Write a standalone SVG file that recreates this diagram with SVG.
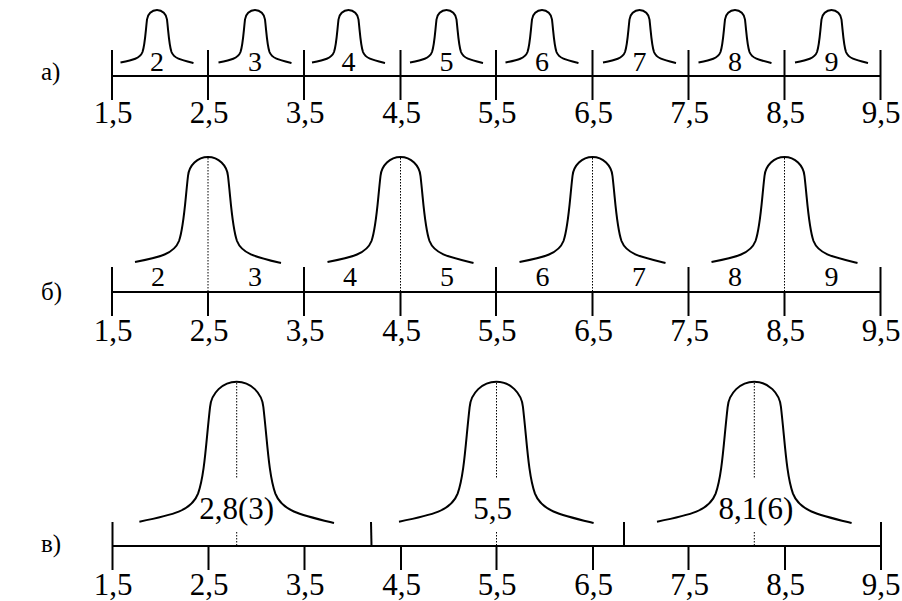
<svg xmlns="http://www.w3.org/2000/svg" xmlns:xlink="http://www.w3.org/1999/xlink" width="902" height="601" viewBox="0 0 902 601">
<style>
.ln{stroke:#000;stroke-width:2;fill:none}
.bump{stroke:#000;stroke-width:2;fill:none;vector-effect:non-scaling-stroke}
.dot{stroke:#000;stroke-width:1;stroke-dasharray:1.5 1.5;fill:none}
text{font-family:'Liberation Serif','Times New Roman',serif;fill:#000}
.t{text-anchor:middle}
.ax{font-size:31px}
.n{font-size:28px}
.v{font-size:31px}
.lb{font-size:25px}
</style>
<defs>
<path id="bp" class="bump" d="M -73,105 C -48,100 -34,97 -29,84 C -24,70 -23,45 -20,19 C -19,8.5 -10.5,0 0,0 C 10.5,0 19,8.5 20,19 C 23,45 24,70 29,84 C 34,97 48,100 73,106"/>
</defs>
<rect width="902" height="601" fill="#fff"/>

<g id="row-a">
<text class="lb" x="41" y="80">а)</text>
<line class="ln" x1="112" y1="76" x2="881" y2="76"/>
<g class="ln">
<line x1="112" y1="50" x2="112" y2="100"/>
<line x1="208" y1="50" x2="208" y2="100"/>
<line x1="304" y1="50" x2="304" y2="100"/>
<line x1="400.5" y1="50" x2="400.5" y2="100"/>
<line x1="496" y1="50" x2="496" y2="100"/>
<line x1="592.5" y1="50" x2="592.5" y2="100"/>
<line x1="688.5" y1="50" x2="688.5" y2="100"/>
<line x1="784.5" y1="50" x2="784.5" y2="100"/>
<line x1="880.5" y1="50" x2="880.5" y2="100"/>
</g>
<use xlink:href="#bp" transform="translate(157,10) scale(0.5)"/>
<use xlink:href="#bp" transform="translate(255,10) scale(0.5)"/>
<use xlink:href="#bp" transform="translate(348.5,10) scale(0.5)"/>
<use xlink:href="#bp" transform="translate(446.5,10) scale(0.5)"/>
<use xlink:href="#bp" transform="translate(542,10) scale(0.5)"/>
<use xlink:href="#bp" transform="translate(639.5,10) scale(0.5)"/>
<use xlink:href="#bp" transform="translate(735,10) scale(0.5)"/>
<use xlink:href="#bp" transform="translate(831.5,10) scale(0.5)"/>
<g class="t n">
<text x="157" y="71">2</text>
<text x="255" y="71">3</text>
<text x="348.5" y="71">4</text>
<text x="446.5" y="71">5</text>
<text x="542" y="71">6</text>
<text x="639.5" y="71">7</text>
<text x="735" y="71">8</text>
<text x="831.5" y="71">9</text>
</g>
<g class="t ax">
<text x="113" y="123">1,5</text>
<text x="209" y="123">2,5</text>
<text x="305" y="123">3,5</text>
<text x="401.5" y="123">4,5</text>
<text x="497" y="123">5,5</text>
<text x="593.5" y="123">6,5</text>
<text x="689.5" y="123">7,5</text>
<text x="785.5" y="123">8,5</text>
<text x="881" y="123">9,5</text>
</g>
</g>

<g id="row-b">
<text class="lb" x="41" y="300">б)</text>
<line class="ln" x1="112" y1="292" x2="881" y2="292"/>
<g class="ln">
<line x1="112" y1="267" x2="112" y2="316"/>
<line x1="208" y1="292" x2="208" y2="316"/>
<line x1="304" y1="267" x2="304" y2="316"/>
<line x1="400.5" y1="292" x2="400.5" y2="316"/>
<line x1="496" y1="267" x2="496" y2="316"/>
<line x1="592.5" y1="292" x2="592.5" y2="316"/>
<line x1="688.5" y1="267" x2="688.5" y2="316"/>
<line x1="784.5" y1="292" x2="784.5" y2="316"/>
<line x1="880.5" y1="267" x2="880.5" y2="316"/>
</g>
<g class="dot">
<line x1="208" y1="158" x2="208" y2="292"/>
<line x1="400.5" y1="158" x2="400.5" y2="292"/>
<line x1="592.5" y1="158" x2="592.5" y2="292"/>
<line x1="784.5" y1="158" x2="784.5" y2="292"/>
</g>
<use xlink:href="#bp" transform="translate(208,157)"/>
<use xlink:href="#bp" transform="translate(400.5,157)"/>
<use xlink:href="#bp" transform="translate(592.5,157)"/>
<use xlink:href="#bp" transform="translate(784.5,157)"/>
<g class="t n">
<text x="158" y="286">2</text>
<text x="255" y="286">3</text>
<text x="350" y="286">4</text>
<text x="447" y="286">5</text>
<text x="542.5" y="286">6</text>
<text x="639" y="286">7</text>
<text x="735" y="286">8</text>
<text x="831.5" y="286">9</text>
</g>
<g class="t ax">
<text x="113" y="341">1,5</text>
<text x="209" y="341">2,5</text>
<text x="305" y="341">3,5</text>
<text x="401.5" y="341">4,5</text>
<text x="497" y="341">5,5</text>
<text x="593.5" y="341">6,5</text>
<text x="689.5" y="341">7,5</text>
<text x="785.5" y="341">8,5</text>
<text x="881" y="341">9,5</text>
</g>
</g>

<g id="row-c">
<text class="lb" x="41" y="552">в)</text>
<line class="ln" x1="112" y1="546" x2="881" y2="546"/>
<g class="ln">
<line x1="112.5" y1="522" x2="112.5" y2="570"/>
<line x1="208.5" y1="546" x2="208.5" y2="570"/>
<line x1="304.5" y1="546" x2="304.5" y2="570"/>
<line x1="371" y1="522" x2="371.5" y2="546"/>
<line x1="401" y1="546" x2="401" y2="570"/>
<line x1="496.5" y1="546" x2="496.5" y2="570"/>
<line x1="593" y1="546" x2="593" y2="570"/>
<line x1="624" y1="522" x2="624" y2="546"/>
<line x1="688.5" y1="546" x2="688.5" y2="570"/>
<line x1="785" y1="546" x2="785" y2="570"/>
<line x1="881" y1="522" x2="881" y2="570"/>
</g>
<g class="dot">
<line x1="236.7" y1="383" x2="236.7" y2="478"/>
<line x1="236.7" y1="532" x2="236.7" y2="545"/>
<line x1="496.5" y1="383" x2="496.5" y2="478"/>
<line x1="496.5" y1="532" x2="496.5" y2="545"/>
<line x1="754.3" y1="383" x2="754.3" y2="478"/>
<line x1="754.3" y1="532" x2="754.3" y2="545"/>
</g>
<use xlink:href="#bp" transform="translate(236.7,381.7) scale(1.333)"/>
<use xlink:href="#bp" transform="translate(496.3,381.7) scale(1.333)"/>
<use xlink:href="#bp" transform="translate(754.3,381.7) scale(1.333)"/>
<g class="t v">
<text x="236.7" y="519">2,8(3)</text>
<text x="492.5" y="519">5,5</text>
<text x="756" y="519">8,1(6)</text>
</g>
<g class="t ax">
<text x="113" y="595">1,5</text>
<text x="209" y="595">2,5</text>
<text x="305" y="595">3,5</text>
<text x="401.5" y="595">4,5</text>
<text x="497" y="595">5,5</text>
<text x="593.5" y="595">6,5</text>
<text x="689.5" y="595">7,5</text>
<text x="785.5" y="595">8,5</text>
<text x="881" y="595">9,5</text>
</g>
</g>
</svg>
